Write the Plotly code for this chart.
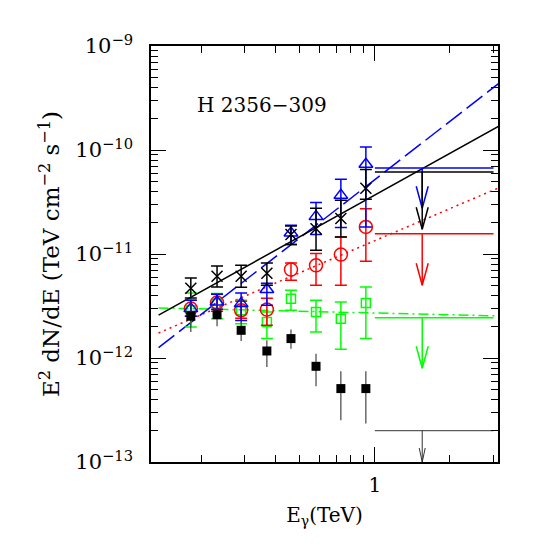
import plotly.graph_objects as go

# energies of the spectral points (TeV)
energy = [0.182, 0.232, 0.290, 0.368, 0.460, 0.580, 0.730, 0.920]

# black crosses
cross_flux = [4.68e-12, 6.10e-12, 6.10e-12, 6.52e-12, 1.537e-11, 1.747e-11, 2.19e-11, 4.28e-11]
cross_hi = [5.88e-12, 7.66e-12, 7.78e-12, 8.19e-12, 1.858e-11, 2.75e-11, 3.28e-11, 6.48e-11]
cross_lo = [3.78e-12, 4.82e-12, 4.78e-12, 5.00e-12, 1.231e-11, 1.086e-11, 1.457e-11, 3.36e-11]

# blue triangles
tri_flux = [2.985e-12, 3.455e-12, 3.335e-12, 4.55e-12, 1.592e-11, 2.30e-11, 3.665e-11, 7.29e-11]
tri_hi = [3.59e-12, 4.10e-12, 4.22e-12, 5.23e-12, 1.888e-11, 3.12e-11, 5.23e-11, 1.069e-10]
tri_lo = [2.52e-12, 2.94e-12, 2.30e-12, 3.21e-12, 1.231e-11, 1.537e-11, 1.795e-11, 1.82e-11]

# red circles
circ_flux = [2.985e-12, 3.41e-12, 2.875e-12, 2.92e-12, 7.08e-12, 7.78e-12, 9.87e-12, 1.82e-11]
circ_hi = [3.59e-12, 4.10e-12, 3.51e-12, 3.75e-12, 8.19e-12, 1.009e-11, 1.457e-11, 2.73e-11]
circ_lo = [2.52e-12, 2.81e-12, 2.41e-12, 2.06e-12, 5.58e-12, 5.00e-12, 5.00e-12, 8.51e-12]

# green open squares
sq_flux = [2.875e-12, 3.335e-12, 2.875e-12, 2.22e-12, 3.72e-12, 2.77e-12, 2.39e-12, 3.38e-12]
sq_hi = [4.22e-12, 4.16e-12, 3.59e-12, 2.77e-12, 4.48e-12, 3.59e-12, 3.455e-12, 4.82e-12]
sq_lo = [1.99e-12, 2.39e-12, 2.14e-12, 1.537e-12, 2.875e-12, 1.78e-12, 1.213e-12, 1.537e-12]

# black filled squares
fill_flux = [2.52e-12, 2.61e-12, 1.846e-12, 1.168e-12, 1.537e-12, 8.32e-13, 5.08e-13, 5.08e-13]
fill_hi = [3.43e-12, 3.36e-12, 2.30e-12, 1.48e-12, 1.875e-12, 1.10e-12, 7.45e-13, 7.45e-13]
fill_lo = [1.78e-12, 2.02e-12, 1.457e-12, 8.19e-13, 1.23e-12, 5.34e-13, 2.52e-13, 2.34e-13]

# power-law fits, drawn between two end energies
fit_energy = [0.135, 3.14]
fit_black = [2.58e-12, 1.69e-10]
fit_blue = [1.26e-12, 4.35e-10]
fit_red = [1.74e-12, 4.32e-11]
fit_green = [3.03e-12, 2.54e-12]

# upper limits for the 1-3 TeV bin
ul_band = [1.0, 3.0]
ul_energy = 1.55
ul_blue, ul_blue_tip = 6.71e-11, 2.75e-11
ul_black, ul_black_tip = 6.14e-11, 1.73e-11
ul_red, ul_red_tip = 1.57e-11, 5.0e-12
ul_green, ul_green_tip = 2.44e-12, 7.96e-13
ul_grey, ul_grey_tip = 2.0e-13, 1.0e-13

BLUE, RED, GREEN, BLACK, GREY = "#0000ff", "#ff0000", "#00ff00", "#000000", "#333333"
SERIF = "DejaVu Serif"

fig = go.Figure()


def add_points(flux, hi, lo, symbol, size, color, bar_color=None, cap=6, filled=False):
    plus = [h - f for h, f in zip(hi, flux)]
    minus = [f - l for f, l in zip(flux, lo)]
    fig.add_trace(go.Scatter(
        x=energy, y=flux, mode="markers",
        marker=dict(symbol=symbol, size=size, color=color,
                    line=dict(color=color, width=0 if filled else 1.5)),
        error_y=dict(type="data", array=plus, arrayminus=minus, symmetric=False,
                     color=bar_color or color, thickness=1.5 if not filled else 1.1,
                     width=cap),
        showlegend=False,
    ))


def add_fit(flux, color, dash):
    fig.add_trace(go.Scatter(x=fit_energy, y=flux, mode="lines",
                             line=dict(color=color, width=1.5, dash=dash),
                             showlegend=False))


def add_limit(value, tip, color, width=1.5, head=22, half=6):
    # horizontal bin + vertical arrow with open V head
    dx = 10 ** (half / 249)
    dy = 10 ** (head / 104)
    fig.add_trace(go.Scatter(
        x=ul_band + [None, ul_energy, ul_energy, None,
                     ul_energy / dx, ul_energy, ul_energy * dx],
        y=[value, value, None, value, tip, None, tip * dy, tip, tip * dy],
        mode="lines", line=dict(color=color, width=width), showlegend=False,
    ))


add_fit(fit_green, GREEN, "10px,4px,2px,4px")
add_fit(fit_red, RED, "2px,4px")
add_fit(fit_blue, BLUE, "20px,6px")
add_fit(fit_black, BLACK, "solid")

add_points(sq_flux, sq_hi, sq_lo, "square-open", 9, GREEN)
add_points(circ_flux, circ_hi, circ_lo, "circle-open", 13, RED)
add_points(tri_flux, tri_hi, tri_lo, "triangle-up-open", 12, BLUE)
add_points(cross_flux, cross_hi, cross_lo, "x-thin-open", 11, BLACK)
add_points(fill_flux, fill_hi, fill_lo, "square", 9, BLACK, bar_color=GREY, cap=0, filled=True)

add_limit(ul_green, ul_green_tip, GREEN)
add_limit(ul_red, ul_red_tip, RED)
add_limit(ul_blue, ul_blue_tip, BLUE)
add_limit(ul_black, ul_black_tip, BLACK)
add_limit(ul_grey, ul_grey_tip, GREY, width=1, head=14, half=3)

y_major = [1e-13, 1e-12, 1e-11, 1e-10, 1e-9]
y_labels = ["10<sup>−13</sup>", "10<sup>−12</sup>", "10<sup>−11</sup>",
            "10<sup>−10</sup>", "10<sup>−9</sup>"]
y_minor = [k * d for d in y_major[:-1] for k in range(2, 10)]
x_minor = [0.2, 0.3, 0.4, 0.5, 0.6, 0.7, 0.8, 0.9, 2, 3]

fig.update_xaxes(
    type="log", range=[-0.9, 0.495], showgrid=False, zeroline=False,
    showline=True, linecolor="black", linewidth=1.5, mirror="ticks",
    ticks="inside", ticklen=15, tickwidth=1.2, tickcolor="black",
    tickmode="array", tickvals=[1], ticktext=["1"], ticklabelstandoff=4,
    minor=dict(ticks="inside", ticklen=7, tickwidth=1.2, tickcolor="black",
               tickmode="array", tickvals=x_minor, showgrid=False),
    tickfont=dict(family=SERIF, size=20, color="black"),
    title=dict(text="E<sub>γ</sub>(TeV)", font=dict(family=SERIF, size=20, color="black"),
               standoff=12),
)
fig.update_yaxes(
    type="log", range=[-13, -9], showgrid=False, zeroline=False,
    showline=True, linecolor="black", linewidth=1.5, mirror="ticks",
    ticks="inside", ticklen=15, tickwidth=1.2, tickcolor="black",
    tickmode="array", tickvals=y_major, ticktext=y_labels, ticklabelstandoff=12,
    minor=dict(ticks="inside", ticklen=7, tickwidth=1.2, tickcolor="black",
               tickmode="array", tickvals=y_minor, showgrid=False),
    tickfont=dict(family=SERIF, size=21, color="black"),
    title=dict(text="E<sup>2</sup> dN/dE (TeV cm<sup>−2</sup> s<sup>−1</sup>)",
               font=dict(family=SERIF, size=23, color="black"), standoff=9),
)

fig.add_annotation(text="H 2356−309", xref="paper", yref="paper", x=0.32, y=0.857,
                   xanchor="center", yanchor="middle",
                   showarrow=False, font=dict(family=SERIF, size=20, color="black"))

# page body adds an 8 px offset, so margins are shifted to keep the plot frame in place
fig.update_layout(
    width=545, height=545,
    margin=dict(l=143, r=55, t=38, b=91),
    plot_bgcolor="white", paper_bgcolor="white",
)

fig.write_html("out.html")
